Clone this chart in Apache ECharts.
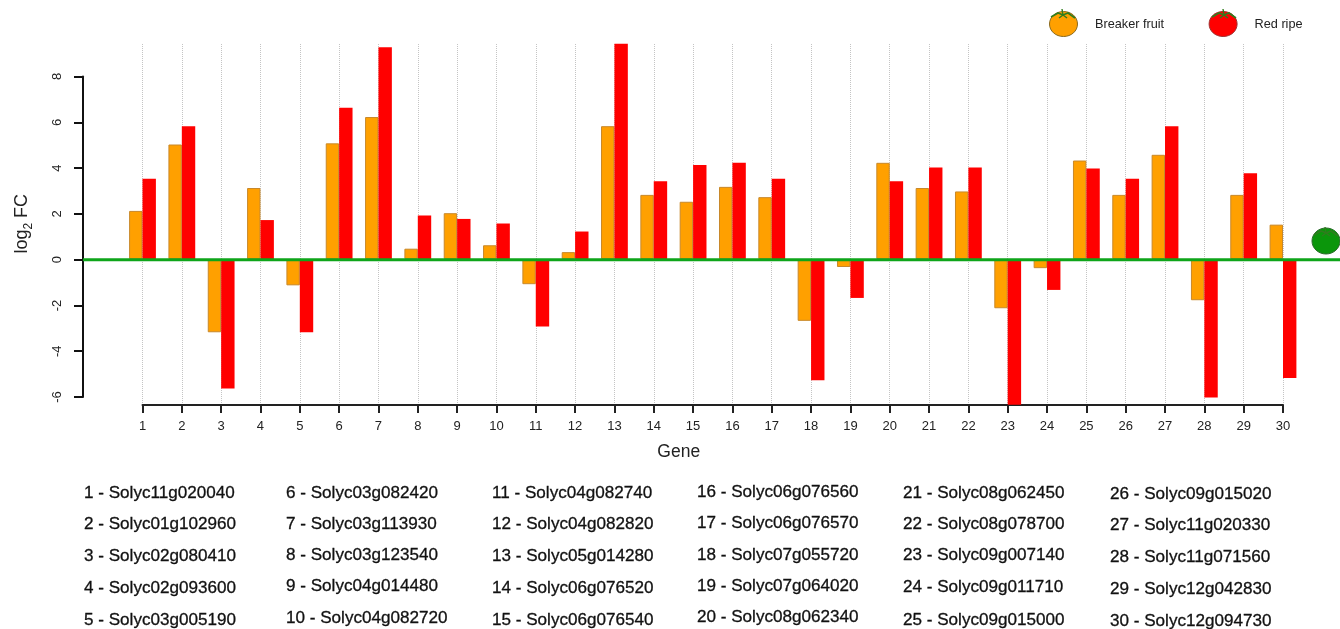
<!DOCTYPE html>
<html><head><meta charset="utf-8">
<style>html,body{margin:0;padding:0;background:#fff}#c{width:1340px;height:629px}</style>
<script src="https://cdn.jsdelivr.net/npm/echarts@6/dist/echarts.min.js"></script>
</head><body><div id="c"></div>
<script>
const genes = ['1','2','3','4','5','6','7','8','9','10','11','12','13','14','15','16','17','18','19','20','21','22','23','24','25','26','27','28','29','30'];
const breakerFruit = [2.1,5.0,-3.2,3.1,-1.15,5.05,6.2,0.45,2.0,0.6,-1.1,0.3,5.8,2.8,2.5,3.15,2.7,-2.7,-0.35,4.2,3.1,2.95,-2.15,-0.4,4.3,2.8,4.55,-1.8,2.8,1.5];
const redRipe = [3.5,5.8,-5.65,1.7,-3.2,6.6,9.25,1.9,1.75,1.55,-2.95,1.2,9.4,3.4,4.1,4.2,3.5,-5.3,-1.7,3.4,4.0,4.0,-6.37,-1.35,3.95,3.5,5.8,-6.05,3.75,-5.2];
const geneIds = ['Solyc11g020040','Solyc01g102960','Solyc02g080410','Solyc02g093600','Solyc03g005190','Solyc03g082420','Solyc03g113930','Solyc03g123540','Solyc04g014480','Solyc04g082720','Solyc04g082740','Solyc04g082820','Solyc05g014280','Solyc06g076520','Solyc06g076540','Solyc06g076560','Solyc06g076570','Solyc07g055720','Solyc07g064020','Solyc08g062340','Solyc08g062450','Solyc08g078700','Solyc09g007140','Solyc09g011710','Solyc09g015000','Solyc09g015020','Solyc11g020330','Solyc11g071560','Solyc12g042830','Solyc12g094730'];
const FONT = '"Liberation Sans", Arial, sans-serif';
const colX = [84,286,492,697,903,1110];
const rowY = [[493,524,556,588,620],[493,524,555,586,618],[493,524,556,588,620],[492,523,555,586,617],[493,524,555,587,620],[494,525,557,589,621]];
const pxPerUnit = 22.9, zeroY = 259, gridTop = 44, gridBottom = 405;
const ELLIPSE = 'path://M0,50 C0,22 22,0 50,0 C78,0 100,22 100,50 C100,78 78,100 50,100 C22,100 0,78 0,50 Z';

const listText = genes.map((g,i)=>({
  type:'text', x:colX[Math.floor(i/5)], y:rowY[Math.floor(i/5)][i%5],
  style:{text:g+' - '+geneIds[i], font:'17.1px '+FONT, fill:'#111', stroke:'#111', lineWidth:0.3, textVerticalAlign:'middle'}
}));
function stem(cx,cy){
  return [
    {type:'polyline',shape:{points:[[cx-12,cy+3],[cx-5,cy-1],[cx,cy+1],[cx+5,cy-1],[cx+12,cy+4]]},style:{stroke:'#2f7d1e',fill:null,lineWidth:1.6},z:20},
    {type:'polyline',shape:{points:[[cx-1,cy-5],[cx,cy+1],[cx-4,cy+4]]},style:{stroke:'#2f7d1e',fill:null,lineWidth:1.4},z:20},
    {type:'polyline',shape:{points:[[cx,cy+1],[cx+4,cy+4]]},style:{stroke:'#2f7d1e',fill:null,lineWidth:1.4},z:20}
  ];
}
const chart = echarts.init(document.getElementById('c'),null,{renderer:'canvas'});
chart.setOption({
  animation:false,
  backgroundColor:'#fff',
  textStyle:{fontFamily:FONT},
  legend:{
    left:1044, top:6, orient:'horizontal', itemWidth:28, itemHeight:25, itemGap:44.5,
    icon:ELLIPSE, symbolKeepAspect:false, selectedMode:false,
    textStyle:{fontSize:12.7,color:'#222',padding:[0,0,0,12.5],fontFamily:FONT},
    data:[
      {name:'Breaker fruit',itemStyle:{color:'#ffa000',borderColor:'#8a6a20',borderWidth:1}},
      {name:'Red ripe',itemStyle:{color:'#ff0000',borderColor:'#a03030',borderWidth:1}}
    ]
  },
  grid:[
    {left:142.5,right:57,top:gridTop,height:gridBottom-gridTop,containLabel:false,outerBoundsMode:'none'},
    {left:83,right:0,top:76.5,height:320.5,containLabel:false,outerBoundsMode:'none'}
  ],
  xAxis:[
    {type:'category',gridIndex:0,data:genes,boundaryGap:false,
     axisLine:{onZero:false,lineStyle:{color:'#222',width:2}},
     axisTick:{show:true,interval:0,length:8,lineStyle:{color:'#222',width:2}},
     axisLabel:{interval:0,fontSize:13,color:'#222',margin:15,fontFamily:FONT},
     splitLine:{show:true,interval:0,lineStyle:{color:'#c4c4c4',type:'dotted',width:1}},
     name:'Gene',nameLocation:'middle',nameGap:38,nameTextStyle:{fontSize:17.5,color:'#222',fontFamily:FONT,padding:[0,68,0,0]}
    },
    {type:'value',gridIndex:1,min:0,max:1,show:false}
  ],
  yAxis:[
    {type:'value',gridIndex:0,show:false,
     min:(zeroY-gridBottom)/pxPerUnit,max:(zeroY-gridTop)/pxPerUnit,splitLine:{show:false}},
    {type:'value',gridIndex:1,min:-6,max:8,interval:2,position:'left',
     axisLine:{show:true,onZero:false,lineStyle:{color:'#111',width:2}},
     axisTick:{show:true,length:9,lineStyle:{color:'#111',width:2}},
     axisLabel:{rotate:90,fontSize:13,color:'#222',margin:26,align:'center',verticalAlign:'middle',fontFamily:FONT},
     splitLine:{show:false},
     name:'{a|log}{s|2}{a| FC}',nameLocation:'middle',nameGap:52,nameRotate:90,
     nameTextStyle:{padding:[0,0,0,26],rich:{a:{fontSize:18,color:'#222',fontFamily:FONT},s:{fontSize:12,color:'#222',fontFamily:FONT,verticalAlign:'bottom',padding:[0,0,-4,0]}}}
    }
  ],
  series:[
    {name:'Breaker fruit',type:'bar',xAxisIndex:0,yAxisIndex:0,data:breakerFruit,barWidth:13.4,barGap:'0%',clip:false,
     itemStyle:{color:'#ffa000',borderColor:'#c8882a',borderWidth:1},z:3},
    {name:'Red ripe',type:'bar',xAxisIndex:0,yAxisIndex:0,data:redRipe,barWidth:13.4,barGap:'0%',clip:false,
     itemStyle:{color:'#ff0000'},z:3},
    {name:'baseline',type:'line',xAxisIndex:1,yAxisIndex:1,data:[[0,0],[1,0]],symbol:'none',silent:true,
     lineStyle:{color:'#0ea51a',width:3},z:5}
  ],
  graphic:[].concat(
    listText,
    [{type:'ellipse',shape:{cx:1326,cy:241,rx:14,ry:13},style:{fill:'#0b960b',stroke:'#2a6a2a',lineWidth:1},z:10}],
    stem(1326,232), stem(1063,14), stem(1224,14)
  )
});
</script></body></html>
